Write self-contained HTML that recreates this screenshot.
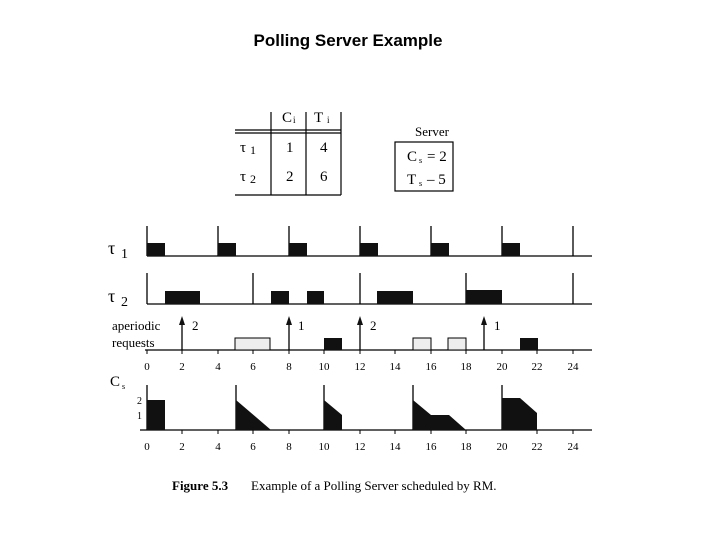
<!DOCTYPE html>
<html><head><meta charset="utf-8"><style>body{margin:0;background:#fff}svg{display:block}</style></head><body>
<svg width="720" height="540" xmlns="http://www.w3.org/2000/svg" font-family="Liberation Serif, serif">
<text x="348" y="46" font-family="Liberation Sans, sans-serif" font-weight="bold" font-size="17" text-anchor="middle">Polling Server Example</text>
<g stroke="#000" stroke-width="1.2" fill="none">
<line x1="271" y1="112" x2="271" y2="195"/><line x1="306" y1="112" x2="306" y2="195"/><line x1="341" y1="112" x2="341" y2="195"/>
<line x1="235" y1="130" x2="341" y2="130"/><line x1="235" y1="133" x2="341" y2="133"/>
<line x1="235" y1="195" x2="341" y2="195"/>
<rect x="395" y="142" width="58" height="49"/>
</g>
<g font-size="15">
<text x="282" y="122">C</text><text x="293" y="123" font-size="9">i</text>
<text x="314" y="122">T</text><text x="327" y="123" font-size="9">i</text>
<text x="240" y="152">τ</text><text x="250" y="154" font-size="12">1</text>
<text x="240" y="181">τ</text><text x="250" y="183" font-size="12">2</text>
<text x="286" y="152">1</text><text x="320" y="152">4</text>
<text x="286" y="181">2</text><text x="320" y="181">6</text>
<text x="432" y="136" text-anchor="middle" font-size="13">Server</text>
<text x="407" y="161">C</text><text x="419" y="163" font-size="8">s</text><text x="427" y="161">= 2</text>
<text x="407" y="184">T</text><text x="419" y="186" font-size="8">s</text><text x="427" y="184">– 5</text>
<text x="108" y="254" font-size="18">τ</text><text x="121" y="258" font-size="14">1</text>
<text x="108" y="302" font-size="18">τ</text><text x="121" y="306" font-size="14">2</text>
<text x="112" y="330" font-size="13">aperiodic</text>
<text x="112" y="347" font-size="13">requests</text>
<text x="110" y="386" font-size="15">C</text><text x="122" y="389" font-size="8">s</text>
<text x="137" y="404" font-size="10">2</text><text x="137" y="419" font-size="10">1</text>
</g>
<g stroke="#000" stroke-width="1.3" fill="none">
<!-- tau1 -->
<line x1="147" y1="256" x2="592" y2="256"/>
<line x1="147" y1="226" x2="147" y2="256"/><line x1="218" y1="226" x2="218" y2="256"/><line x1="289" y1="226" x2="289" y2="256"/><line x1="360" y1="226" x2="360" y2="256"/><line x1="431" y1="226" x2="431" y2="256"/><line x1="502" y1="226" x2="502" y2="256"/><line x1="573" y1="226" x2="573" y2="256"/>
<!-- tau2 -->
<line x1="147" y1="304" x2="592" y2="304"/>
<line x1="147" y1="273" x2="147" y2="304"/><line x1="253" y1="273" x2="253" y2="304"/><line x1="360" y1="273" x2="360" y2="304"/><line x1="466" y1="273" x2="466" y2="304"/><line x1="573" y1="273" x2="573" y2="304"/>
<!-- aperiodic -->
<line x1="145" y1="350" x2="592" y2="350"/>
<line x1="182" y1="350" x2="182" y2="320"/><line x1="289" y1="350" x2="289" y2="320"/><line x1="360" y1="350" x2="360" y2="320"/><line x1="484" y1="350" x2="484" y2="320"/>
<!-- Cs -->
<line x1="140" y1="430" x2="592" y2="430"/>
<line x1="147" y1="385" x2="147" y2="430"/><line x1="236" y1="385" x2="236" y2="430"/><line x1="324" y1="385" x2="324" y2="430"/><line x1="413" y1="385" x2="413" y2="430"/><line x1="502" y1="385" x2="502" y2="430"/>
</g>
<g stroke="#000" stroke-width="1">
<line x1="147" y1="350" x2="147" y2="354"/><line x1="182" y1="350" x2="182" y2="354"/><line x1="218" y1="350" x2="218" y2="354"/><line x1="253" y1="350" x2="253" y2="354"/><line x1="289" y1="350" x2="289" y2="354"/><line x1="324" y1="350" x2="324" y2="354"/><line x1="360" y1="350" x2="360" y2="354"/><line x1="395" y1="350" x2="395" y2="354"/><line x1="431" y1="350" x2="431" y2="354"/><line x1="466" y1="350" x2="466" y2="354"/><line x1="502" y1="350" x2="502" y2="354"/><line x1="537" y1="350" x2="537" y2="354"/><line x1="573" y1="350" x2="573" y2="354"/>
<line x1="182" y1="430" x2="182" y2="434"/><line x1="218" y1="430" x2="218" y2="434"/><line x1="253" y1="430" x2="253" y2="434"/><line x1="289" y1="430" x2="289" y2="434"/><line x1="360" y1="430" x2="360" y2="434"/><line x1="395" y1="430" x2="395" y2="434"/><line x1="431" y1="430" x2="431" y2="434"/><line x1="466" y1="430" x2="466" y2="434"/><line x1="537" y1="430" x2="537" y2="434"/><line x1="573" y1="430" x2="573" y2="434"/>
</g>
<g fill="#111">
<polygon points="182,316 179,325 185,325"/><polygon points="289,316 286,325 292,325"/><polygon points="360,316 357,325 363,325"/><polygon points="484,316 481,325 487,325"/>
<!-- tau1 blocks -->
<rect x="147" y="243" width="18" height="13"/><rect x="218" y="243" width="18" height="13"/><rect x="289" y="243" width="18" height="13"/><rect x="360" y="243" width="18" height="13"/><rect x="431" y="243" width="18" height="13"/><rect x="502" y="243" width="18" height="13"/>
<!-- tau2 blocks -->
<rect x="165" y="291" width="35" height="13"/><rect x="271" y="291" width="18" height="13"/><rect x="307" y="291" width="17" height="13"/><rect x="377" y="291" width="36" height="13"/><rect x="466" y="290" width="36" height="14"/>
<!-- aperiodic black -->
<rect x="324" y="338" width="18" height="12"/><rect x="520" y="338" width="18" height="12"/>
<!-- Cs -->
<rect x="147" y="400" width="18" height="30"/>
<polygon points="236,400 271,430 236,430"/>
<polygon points="324,400 342,415 342,430 324,430"/>
<polygon points="413,400 431,415 449,415 466,430 413,430"/>
<polygon points="502,398 520,398 537,413 537,430 502,430"/>
</g>
<g fill="#eee" stroke="#000" stroke-width="1">
<rect x="235" y="338" width="35" height="12"/><rect x="413" y="338" width="18" height="12"/><rect x="448" y="338" width="18" height="12"/>
</g>
<g font-size="13">
<text x="192" y="330">2</text><text x="298" y="330">1</text><text x="370" y="330">2</text><text x="494" y="330">1</text>
</g>
<g font-size="11" text-anchor="middle">
<text x="147" y="370">0</text><text x="182" y="370">2</text><text x="218" y="370">4</text><text x="253" y="370">6</text><text x="289" y="370">8</text><text x="324" y="370">10</text><text x="360" y="370">12</text><text x="395" y="370">14</text><text x="431" y="370">16</text><text x="466" y="370">18</text><text x="502" y="370">20</text><text x="537" y="370">22</text><text x="573" y="370">24</text>
<text x="147" y="450">0</text><text x="182" y="450">2</text><text x="218" y="450">4</text><text x="253" y="450">6</text><text x="289" y="450">8</text><text x="324" y="450">10</text><text x="360" y="450">12</text><text x="395" y="450">14</text><text x="431" y="450">16</text><text x="466" y="450">18</text><text x="502" y="450">20</text><text x="537" y="450">22</text><text x="573" y="450">24</text>
</g>
<text x="172" y="490" font-size="13" font-weight="bold">Figure 5.3</text>
<text x="251" y="490" font-size="13">Example of a Polling Server scheduled by RM.</text>
</svg>
</body></html>
